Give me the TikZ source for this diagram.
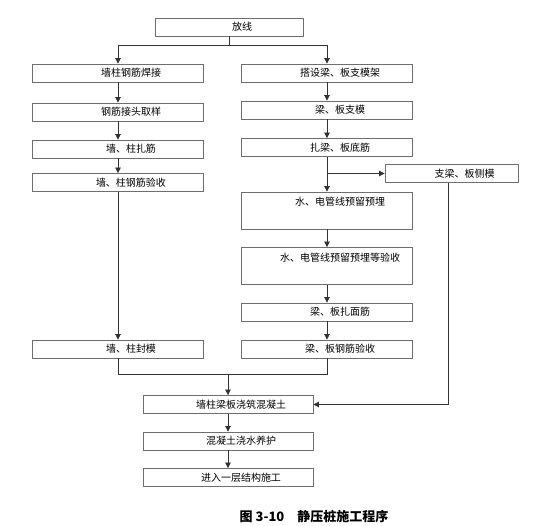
\documentclass[tikz,border=0pt]{standalone}
\usepackage{fontspec}
\setmainfont{Noto Sans CJK SC}
\usepackage{xcolor}
\usepackage{tikz}
\usetikzlibrary{arrows.meta,calc,positioning}
\definecolor{boxcolor}{RGB}{110,110,110}
\definecolor{linecolor}{RGB}{50,50,50}
\tikzset{
  stepbox/.style={draw=boxcolor,line width=0.8pt,minimum width=171pt,minimum height=18pt,
    inner sep=2pt,font=\fontsize{10}{12}\selectfont,execute at begin node={\hspace*{26pt}}},
  tallbox/.style={stepbox,text height=12pt,text depth=21pt},
  flow/.style={draw=linecolor,line width=0.7pt}
}

\begin{document}
\begin{tikzpicture}[x=1pt,y=-1pt,>={Triangle[length=5.5pt,width=5.5pt]}]
  \useasboundingbox (0,0) rectangle (555,526);
  % boxes of the flow, placed at the positions of the drawing
  \node[stepbox,minimum width=148pt] (fang) at (229,27) {放线};
  \node[stepbox] (wall1) at (118,73)    {墙柱钢筋焊接};
  \node[stepbox] (wall2) at (118,112)   {钢筋接头取样};
  \node[stepbox] (wall3) at (118,149)   {墙、柱扎筋};
  \node[stepbox] (wall4) at (118,182.5) {墙、柱钢筋验收};
  \node[stepbox] (wall5) at (118,349)   {墙、柱封模};
  \node[stepbox] (slab1) at (327,73)    {搭设梁、板支模架};
  \node[stepbox] (slab2) at (327,110)   {梁、板支模};
  \node[stepbox] (slab3) at (327,147.5) {扎梁、板底筋};
  \node[stepbox,minimum width=133pt] (side) at (451.5,173.5) {支梁、板侧模};
  \node[tallbox] (slab4) at (327,210.5) {水、电管线预留预埋};
  \node[tallbox] (slab5) at (327,266)   {水、电管线预留预埋等验收};
  \node[stepbox] (slab6) at (327,312)   {梁、板扎面筋};
  \node[stepbox] (slab7) at (327,349)   {梁、板钢筋验收};
  \node[stepbox,minimum width=170pt] (pour) at (228,404.5) {墙柱梁板浇筑混凝土};
  \node[stepbox,minimum width=170pt] (cure) at (228,441)   {混凝土浇水养护};
  \node[stepbox,minimum width=170pt] (next) at (228,477.5) {进入一层结构施工};
  \coordinate (split) at (229,45);
  \coordinate (join) at (228,374);
  % connectors
  \draw[flow] (fang) -- (split);
  \draw[flow,->] (split) -| (wall1);
  \draw[flow,->] (split) -| (slab1);
  \foreach \a/\b in {wall1/wall2,wall2/wall3,wall3/wall4,wall4/wall5,
                     slab1/slab2,slab2/slab3,slab3/slab4,slab4/slab5,slab5/slab6,slab6/slab7,
                     pour/cure,cure/next}
    \draw[flow,->] (\a) -- (\b);
  \draw[flow,->] (slab3.south |- side) -- (side);
  \draw[flow,->] ([xshift=-3pt]side.south) |- (pour);
  \draw[flow] (wall5) |- (join);
  \draw[flow] (slab7) |- (join);
  \draw[flow,->] (join) -- (pour);
  \node[font=\bfseries\fontsize{13}{15}\selectfont] (caption) at (314,517) {图 3-10\quad 静压桩施工程序};
\end{tikzpicture}
\end{document}
